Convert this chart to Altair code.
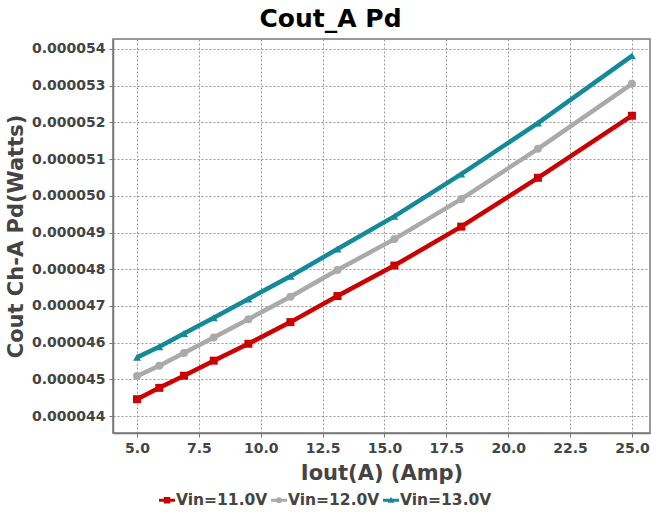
import altair as alt
import pandas as pd

# Output current (A) at each measurement point
iout = [5.0, 5.9, 6.9, 8.1, 9.5, 11.2, 13.1, 15.4, 18.1, 21.2, 25.0]

# Output-capacitor power dissipation (W) for each input voltage
pd_11v = [44.46e-6, 44.77e-6, 45.10e-6, 45.51e-6, 45.97e-6, 46.56e-6,
          47.27e-6, 48.10e-6, 49.16e-6, 50.49e-6, 52.18e-6]
pd_12v = [45.09e-6, 45.37e-6, 45.72e-6, 46.14e-6, 46.64e-6, 47.25e-6,
          47.98e-6, 48.82e-6, 49.91e-6, 51.28e-6, 53.05e-6]
pd_13v = [45.60e-6, 45.89e-6, 46.25e-6, 46.68e-6, 47.19e-6, 47.81e-6,
          48.55e-6, 49.44e-6, 50.59e-6, 51.98e-6, 53.81e-6]

series_names = ["Vin=11.0V", "Vin=12.0V", "Vin=13.0V"]
series_colors = ["#CC0000", "#AAAAAA", "#14899A"]
point_shapes = ["square", "circle", "triangle-up"]

x_ticks = [5.0, 7.5, 10.0, 12.5, 15.0, 17.5, 20.0, 22.5, 25.0]
y_ticks = [44e-6, 45e-6, 46e-6, 47e-6, 48e-6, 49e-6, 50e-6, 51e-6, 52e-6, 53e-6, 54e-6]

rows = []
for name, vals in zip(series_names, [pd_11v, pd_12v, pd_13v]):
    for xv, yv in zip(iout, vals):
        rows.append({"iout": xv, "pd": yv, "series": name})
df = pd.DataFrame(rows)

# Legend glyphs: a short line with the series marker in the middle
legend_paths = [
    "M-1,-0.2L1,-0.2L1,0.2L-1,0.2Z M-0.4,-0.4L0.4,-0.4L0.4,0.4L-0.4,0.4Z",
    "M-1,-0.2L1,-0.2L1,0.2L-1,0.2Z M0.38,0A0.38,0.38 0 1,1 -0.38,0A0.38,0.38 0 1,1 0.38,0Z",
    "M-1,-0.2L1,-0.2L1,0.2L-1,0.2Z M0,-0.45L0.42,0.3L-0.42,0.3Z",
]

FONT = "DejaVu Sans"

x_enc = alt.X(
    "iout:Q",
    title="Iout(A) (Amp)",
    scale=alt.Scale(domain=[4.03, 25.73], nice=False, zero=False),
    axis=alt.Axis(values=x_ticks, format=".1f"),
)
y_enc = alt.Y(
    "pd:Q",
    title="Cout Ch-A Pd(Watts)",
    scale=alt.Scale(domain=[43.54e-6, 54.27e-6], nice=False, zero=False),
    axis=alt.Axis(values=y_ticks, format=".6f"),
)

series_legend = alt.Legend(
    orient="none",
    direction="horizontal",
    legendX=46,
    legendY=453,
    symbolSize=256,
    symbolStrokeWidth=0,
    symbolOpacity=1,
    labelFont=FONT,
    labelFontSize=15.5,
    labelFontWeight="bold",
    labelColor="#444444",
    labelOffset=1,
    columnPadding=3,
)
color_enc = alt.Color(
    "series:N",
    scale=alt.Scale(domain=series_names, range=series_colors),
    title=None,
    legend=series_legend,
)

base = alt.Chart(df)

lines = base.mark_line(strokeWidth=4.5, clip=True).encode(
    x=x_enc, y=y_enc, color=color_enc
)

# One marker layer per series, each with its own fixed shape
point_layers = [
    base.transform_filter(alt.datum.series == name)
    .mark_point(shape=shp, filled=True, size=64, opacity=1)
    .encode(x=x_enc, y=y_enc, color=color_enc)
    for name, shp in zip(series_names, point_shapes)
]

# Empty layer that only carries the legend glyphs
legend_layer = (
    base.transform_filter("datum.iout < 0")
    .mark_point(filled=True, opacity=1)
    .encode(
        x=x_enc,
        y=y_enc,
        color=color_enc,
        shape=alt.Shape(
            "series:N",
            scale=alt.Scale(domain=series_names, range=legend_paths),
            title=None,
            legend=series_legend,
        ),
    )
)

chart = (
    alt.layer(lines, *point_layers, legend_layer)
    .properties(
        width=537,
        height=394,
        autosize=alt.AutoSizeParams(type="none"),
        padding={"left": 113, "top": 39, "right": 1, "bottom": 79},
        title=alt.TitleParams(
            "Cout_A Pd",
            font=FONT,
            fontSize=25,
            fontWeight="bold",
            color="#000000",
            anchor="middle",
            dx=-51,
            offset=7,
        ),
    )
    .configure_view(stroke="#777777", strokeWidth=1.5)
    .configure_axis(
        labelFont=FONT,
        labelFontSize=14,
        labelFontWeight="bold",
        labelColor="#444444",
        titleFont=FONT,
        titleFontSize=21,
        titleFontWeight="bold",
        titleColor="#444444",
        grid=True,
        gridColor="#999999",
        gridDash=[2, 2],
        gridWidth=1,
        domainColor="#777777",
        domainWidth=1.5,
        tickColor="#777777",
        tickSize=4,
        labelPadding=4,
    )
    .configure_axisY(titlePadding=5)
    .configure_axisX(titlePadding=7)
)

chart.save("out.html", embed_options={"renderer": "svg", "actions": False})
